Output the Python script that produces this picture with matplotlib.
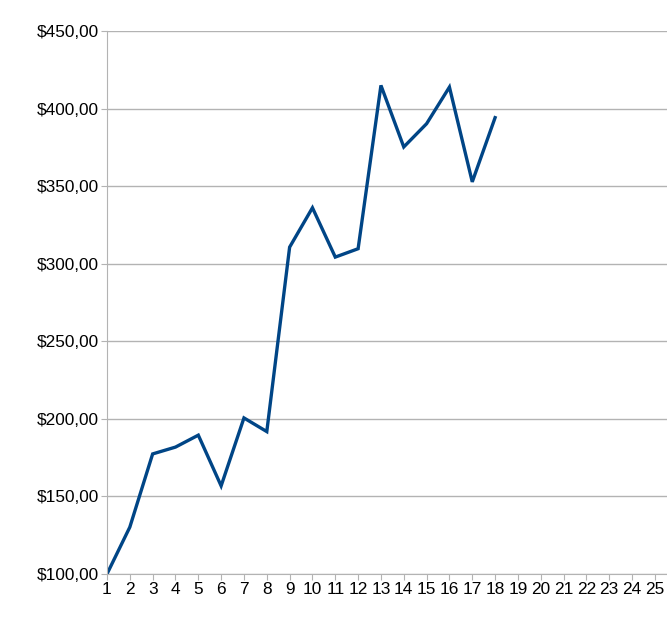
import matplotlib
matplotlib.use('Agg')
import matplotlib.pyplot as plt
from matplotlib.ticker import FuncFormatter

plt.rcParams['font.family'] = ['Liberation Sans', 'DejaVu Sans']

# Values.
days = list(range(1, 19))
price = [100.0, 130.2, 177.4, 181.8, 189.5, 156.8, 200.6, 191.8,
         310.7, 336.1, 304.3, 309.7, 415.0, 375.3, 390.3, 413.9,
         352.8, 394.2]
x_ticks = list(range(1, 26))
y_ticks = [100, 150, 200, 250, 300, 350, 400, 450]

fig = plt.figure(figsize=(6.67, 6.22), dpi=100)
ax = fig.add_axes([0.1604, 0.0772, 0.8396, 0.8728])

ax.plot(days, price, c='#004586', lw=2.4, solid_joinstyle='miter')

ax.set_xlim(1, 25.53)
ax.set_ylim(100, 450)
ax.set_xticks(x_ticks)
ax.set_yticks(y_ticks)
ax.yaxis.set_major_formatter(
    FuncFormatter(lambda v, p: '${:.2f}'.format(v).replace('.', ',')))

ax.grid(axis='y', c='#b3b3b3', lw=1)
ax.set_axisbelow(True)
for side in ['top', 'right']:
    ax.spines[side].set_visible(False)
for side in ['left', 'bottom']:
    ax.spines[side].set_color('#b3b3b3')
ax.tick_params(axis='both', colors='#b3b3b3', labelcolor='black',
               labelsize=12.4, length=4)
ax.tick_params(axis='x', pad=2)
ax.tick_params(axis='y', pad=2)

fig.savefig('out.png')
